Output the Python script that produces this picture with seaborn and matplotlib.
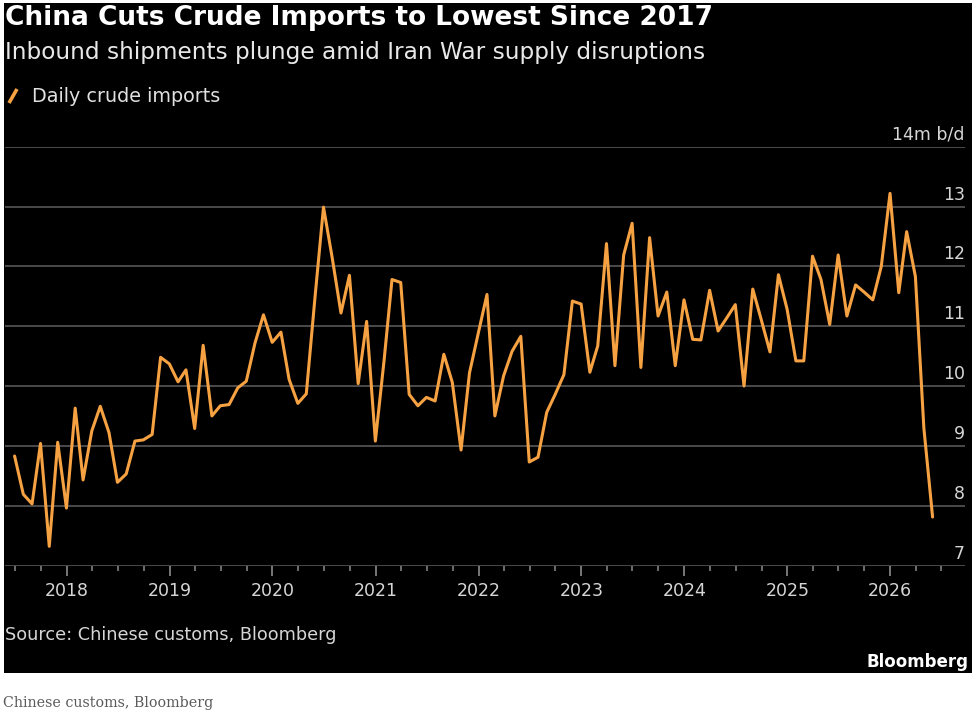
import pandas as pd
import seaborn as sns
import matplotlib.pyplot as plt
import matplotlib.dates as mdates
import matplotlib.transforms as mtrans
from matplotlib.patches import Rectangle
from matplotlib.lines import Line2D

# --- data (m b/d, monthly) ---
first_month = "2017-06-30"
last_month = "2026-05-31"
imports_2017 = [8.83, 8.19, 8.03, 9.04, 7.32, 9.06, 7.96]
imports_2018 = [9.63, 8.43, 9.25, 9.66, 9.22, 8.39, 8.53, 9.08, 9.10, 9.19, 10.48, 10.37]
imports_2019 = [10.07, 10.27, 9.29, 10.68, 9.50, 9.67, 9.69, 9.97, 10.08, 10.72, 11.19, 10.73]
imports_2020 = [10.90, 10.11, 9.71, 9.87, 11.49, 12.99, 12.14, 11.22, 11.85, 10.04, 11.08, 9.08]
imports_2021 = [10.43, 11.78, 11.73, 9.86, 9.67, 9.81, 9.75, 10.53, 10.06, 8.93, 10.22, 10.88]
imports_2022 = [11.53, 9.50, 10.17, 10.58, 10.83, 8.73, 8.81, 9.56, 9.86, 10.19, 11.42, 11.37]
imports_2023 = [10.23, 10.67, 12.38, 10.34, 12.19, 12.72, 10.31, 12.48, 11.17, 11.57, 10.34, 11.44]
imports_2024 = [10.78, 10.77, 11.60, 10.92, 11.14, 11.36, 10.00, 11.62, 11.11, 10.57, 11.86, 11.28]
imports_2025 = [10.42, 10.42, 12.17, 11.78, 11.03, 12.19, 11.17, 11.69, 11.57, 11.44, 12.00, 13.22]
imports_2026 = [11.56, 12.58, 11.83, 9.30, 7.81]

y_ticks = [7, 8, 9, 10, 11, 12, 13, 14]

values = (imports_2017 + imports_2018 + imports_2019 + imports_2020 + imports_2021
          + imports_2022 + imports_2023 + imports_2024 + imports_2025 + imports_2026)
df = pd.DataFrame({
    "month": pd.date_range(first_month, last_month, freq="ME"),
    "imports": values,
})

ORANGE = "#f6a243"
GRID = "#505050"
W, H = 975, 715


def fx(px):
    return px / W


def fy(py):
    return 1 - py / H


sns.set_theme(style="dark")
plt.rcParams["font.family"] = ["DejaVu Sans"]

fig = plt.figure(figsize=(9.75, 7.15), dpi=100)
fig.patch.set_facecolor("white")

# black card behind everything
fig.patches.append(Rectangle((fx(4), fy(673)), fx(972) - fx(4), fy(3) - fy(673),
                             transform=fig.transFigure, facecolor="black",
                             edgecolor="none", zorder=-10))

ax = fig.add_axes([fx(5), fy(565.5), fx(965) - fx(5), fy(146.7) - fy(565.5)])
ax.set_facecolor("black")
ax.set_zorder(2)

sns.lineplot(data=df, x="month", y="imports", color=ORANGE, linewidth=2.2,
             ax=ax, legend=False, zorder=3)

ax.set_xlim(pd.Timestamp("2017-05-27"), pd.Timestamp("2026-09-23"))
ax.set_ylim(7, 14)
ax.set_xlabel("")
ax.set_ylabel("")

for s in ax.spines.values():
    s.set_visible(False)

# y axis: labels on the right, sitting on top of the gridlines
ax.set_yticks(y_ticks)
ax.yaxis.tick_right()
ax.yaxis.set_major_formatter(plt.FuncFormatter(
    lambda v, _: f"{v:.0f}m b/d" if v == 14 else f"{v:.0f}"))
ax.tick_params(axis="y", length=0, pad=0, labelsize=12.5, labelcolor="#d6d6d6")
shift = mtrans.ScaledTranslation(0, 5 / 72, fig.dpi_scale_trans)
for lab in ax.get_yticklabels():
    lab.set_horizontalalignment("right")
    lab.set_verticalalignment("baseline")
    lab.set_transform(lab.get_transform() + shift)
ax.grid(axis="y", color=GRID, linewidth=1.3)
ax.grid(axis="x", visible=False)

# x axis: years with quarterly minor ticks
ax.xaxis.set_major_locator(mdates.YearLocator())
ax.xaxis.set_major_formatter(mdates.DateFormatter("%Y"))
ax.xaxis.set_minor_locator(mdates.MonthLocator(bymonth=[4, 7, 10]))
ax.tick_params(axis="x", which="major", direction="out", length=7, width=1.2,
               color="#8c8c8c", pad=5, labelsize=12.5, labelcolor="#d6d6d6",
               bottom=True)
ax.tick_params(axis="x", which="minor", direction="out", length=3.5, width=1.1,
               color="#8c8c8c", bottom=True)

# header
fig.text(fx(5), fy(18), "China Cuts Crude Imports to Lowest Since 2017",
         fontsize=19, fontweight="bold", color="white", va="center", ha="left")
fig.text(fx(5), fy(52), "Inbound shipments plunge amid Iran War supply disruptions",
         fontsize=16.7, color="#e8e8e8", va="center", ha="left")

# legend
fig.lines.append(Line2D([fx(9), fx(17)], [fy(103), fy(89)], transform=fig.transFigure,
                        color=ORANGE, linewidth=2.6, solid_capstyle="butt"))
fig.text(fx(32), fy(96), "Daily crude imports", fontsize=13.8, color="#e0e0e0",
         va="center", ha="left")

# footer
fig.text(fx(5), fy(635), "Source: Chinese customs, Bloomberg", fontsize=12.7,
         color="#d6d6d6", va="center", ha="left")
fig.text(fx(968), fy(662), "Bloomberg", fontsize=12, fontweight="bold",
         color="white", va="center", ha="right")
fig.text(fx(3), fy(703), "Chinese customs, Bloomberg", fontsize=10.3,
         family="DejaVu Serif", color="#5a5a5a", va="center", ha="left")

fig.savefig("out.png", dpi=100, facecolor=fig.get_facecolor())
